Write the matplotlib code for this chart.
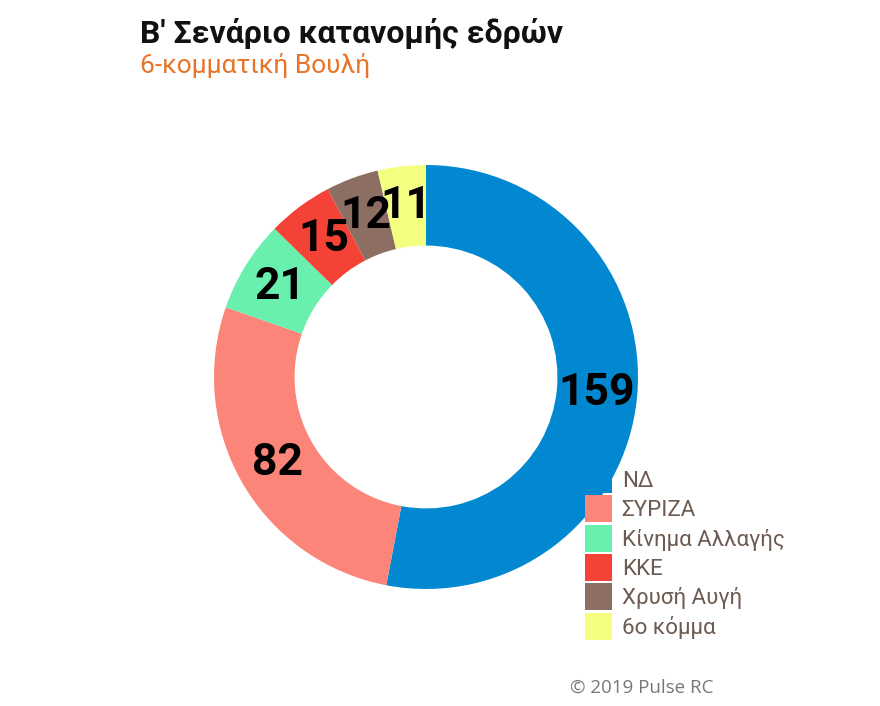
import matplotlib
matplotlib.use("Agg")
import matplotlib.pyplot as plt
from matplotlib.patches import Patch

# seat allocation, scenario B (6 parties)
parties = ["ΝΔ", "ΣΥΡΙΖΑ", "Κίνημα Αλλαγής", "ΚΚΕ", "Χρυσή Αυγή", "6ο κόμμα"]
seats = [159, 82, 21, 15, 12, 11]
colors = ["#0288d1", "#fa8578", "#69f0ae", "#f44336", "#8d6e63", "#f4ff81"]

title = "Β' Σενάριο κατανομής εδρών"
subtitle = "6-κομματική Βουλή"
credit = "© 2019 Pulse RC"

plt.rcParams["font.family"] = ["Roboto", "DejaVu Sans"]

W, H = 880, 706
fig = plt.figure(figsize=(W / 100, H / 100), dpi=100)

# donut: centre (426, 377) px, outer radius 212 px
cx, cy, r = 426, 377, 212
ax = fig.add_axes([(cx - r) / W, (H - cy - r) / H, 2 * r / W, 2 * r / H])
hole = 0.62
total = sum(seats)
wedges, _, nums = ax.pie(
    seats, colors=colors, startangle=90, counterclock=False,
    radius=1, wedgeprops=dict(width=1 - hole, linewidth=0),
    autopct=lambda p: f"{round(p * total / 100)}",
    pctdistance=(1 + hole) / 2,
)
for t in nums:
    t.set_fontsize(32)
    t.set_fontweight("bold")
    t.set_color("black")
ax.set_xlim(-1, 1)
ax.set_ylim(-1, 1)
ax.set_aspect("equal")

handles = [Patch(facecolor=c, edgecolor="none") for c in colors]
leg = fig.legend(
    handles, parties, loc="upper left",
    bbox_to_anchor=(585 / W, 1 - 466 / H), frameon=False,
    handlelength=1.2, handleheight=1.5,
    handletextpad=0.45, labelspacing=0.1, borderpad=0, borderaxespad=0,
    prop={"family": ["Roboto", "DejaVu Sans"], "size": 16},
)
for t in leg.get_texts():
    t.set_color("#6d5b52")

fig.text(140 / W, 1 - 43 / H, title, fontsize=23, fontweight="bold",
         color="#111111", va="baseline", ha="left")
fig.text(140 / W, 1 - 73 / H, subtitle, fontsize=19, color="#e8742c",
         va="baseline", ha="left")
fig.text(570 / W, 1 - 693 / H, credit, fontsize=13.5, color="#777777",
         va="baseline", ha="left", family=["Open Sans", "DejaVu Sans"])

fig.savefig("out.png", dpi=100)
